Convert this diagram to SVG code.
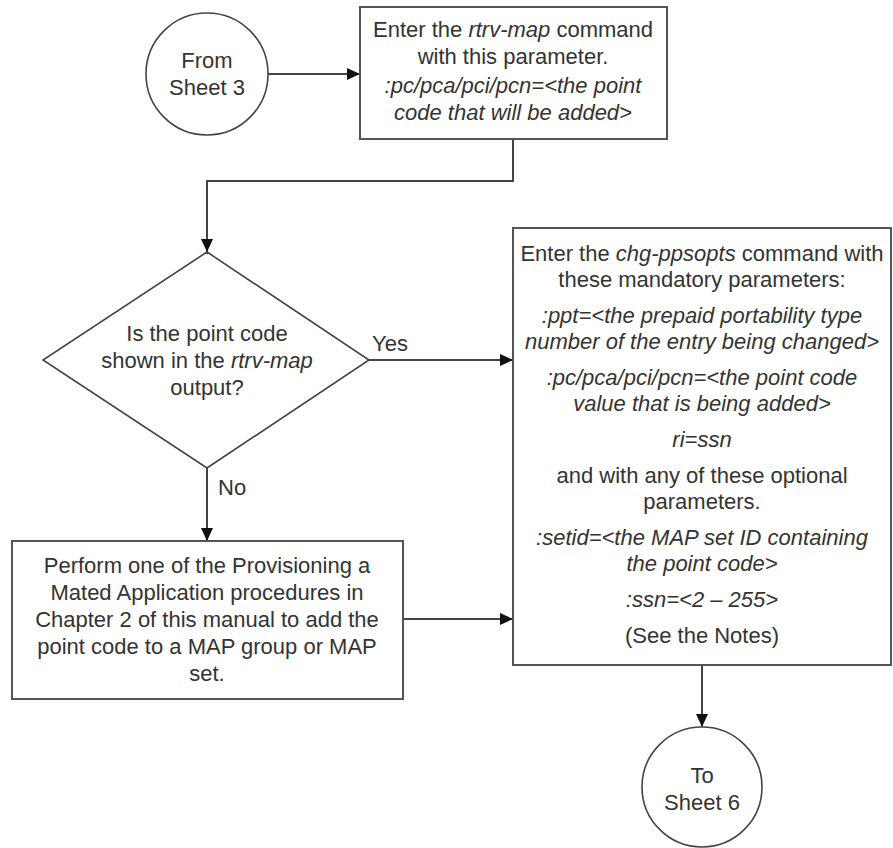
<svg xmlns="http://www.w3.org/2000/svg" width="893" height="848" viewBox="0 0 893 848">
<defs>
<marker id="ah" markerWidth="14" markerHeight="12" refX="13" refY="6" orient="auto" markerUnits="userSpaceOnUse">
<path d="M0,0 L13,6 L0,12 z" fill="#111"/>
</marker>
<style>
.shape{fill:#fff;stroke:#444;stroke-width:1.6}
.box{fill:#fff;stroke:#555;stroke-width:2}
.t{font-family:"Liberation Sans",Arial,sans-serif;font-size:22px;fill:#333;text-anchor:middle}
.i{font-style:italic}
.lbl{font-family:"Liberation Sans",Arial,sans-serif;font-size:22px;fill:#333}
.c{fill:none;stroke:#444;stroke-width:2;marker-end:url(#ah)}
.cn{fill:none;stroke:#444;stroke-width:2}
</style>
</defs>
<rect width="893" height="848" fill="#fff"/>
<g id="connectors">
<line class="c" x1="268" y1="74" x2="360" y2="74"/>
<polyline class="c" points="513,139 513,181 207,181 207,252"/>
<line class="c" x1="369" y1="360" x2="513" y2="360"/>
<line class="c" x1="207" y1="468" x2="207" y2="541"/>
<line class="c" x1="403" y1="619" x2="513" y2="619"/>
<line class="c" x1="702" y1="665" x2="702" y2="727"/>
<text class="lbl" x="372" y="351">Yes</text>
<text class="lbl" x="218" y="495">No</text>
</g>
<g id="start">
<circle class="shape" cx="207" cy="74" r="61"/>
<text class="t" x="207" y="68">From</text>
<text class="t" x="207" y="95">Sheet 3</text>
</g>
<g id="rtrv">
<rect class="box" x="360" y="7" width="307" height="132"/>
<text class="t" x="513" y="37">Enter the <tspan class="i">rtrv-map</tspan> command</text>
<text class="t" x="513" y="64">with this parameter.</text>
<text class="t i" x="513" y="93">:pc/pca/pci/pcn=&lt;the point</text>
<text class="t i" x="513" y="120">code that will be added&gt;</text>
</g>
<g id="decision">
<polygon class="shape" points="207,252 369,360 207,468 43,360"/>
<text class="t" x="207" y="341">Is the point code</text>
<text class="t" x="207" y="368">shown in the <tspan class="i">rtrv-map</tspan></text>
<text class="t" x="207" y="395">output?</text>
</g>
<g id="provision">
<rect class="box" x="12" y="541" width="391" height="158"/>
<text class="t" x="207" y="573">Perform one of the Provisioning a</text>
<text class="t" x="207" y="600">Mated Application procedures in</text>
<text class="t" x="207" y="627">Chapter 2 of this manual to add the</text>
<text class="t" x="207" y="654">point code to a MAP group or MAP</text>
<text class="t" x="207" y="681">set.</text>
</g>
<g id="chgppsopts">
<rect class="box" x="513" y="228" width="378" height="437"/>
<text class="t" x="702" y="261">Enter the <tspan class="i">chg-ppsopts</tspan> command with</text>
<text class="t" x="702" y="287">these mandatory parameters:</text>
<text class="t i" x="702" y="323">:ppt=&lt;the prepaid portability type</text>
<text class="t i" x="702" y="349">number of the entry being changed&gt;</text>
<text class="t i" x="702" y="385">:pc/pca/pci/pcn=&lt;the point code</text>
<text class="t i" x="702" y="411">value that is being added&gt;</text>
<text class="t i" x="702" y="447">ri=ssn</text>
<text class="t" x="702" y="483">and with any of these optional</text>
<text class="t" x="702" y="509">parameters.</text>
<text class="t i" x="702" y="545">:setid=&lt;the MAP set ID containing</text>
<text class="t i" x="702" y="571">the point code&gt;</text>
<text class="t i" x="702" y="607">:ssn=&lt;2 – 255&gt;</text>
<text class="t" x="702" y="643">(See the Notes)</text>
</g>
<g id="end">
<circle class="shape" cx="702" cy="787" r="60"/>
<text class="t" x="702" y="783">To</text>
<text class="t" x="702" y="810">Sheet 6</text>
</g>
</svg>
